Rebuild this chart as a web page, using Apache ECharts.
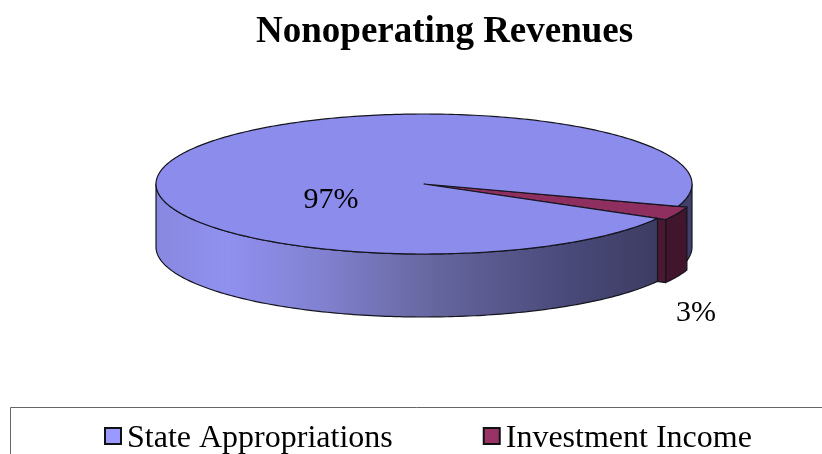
<!DOCTYPE html>
<html><head><meta charset="utf-8">
<style>html,body{margin:0;padding:0;background:#fff}#c{width:822px;height:454px}</style>
<script src="https://cdn.jsdelivr.net/npm/echarts@6/dist/echarts.min.js"></script></head>
<body><div id="c"></div>
<script>
const categories = ['State Appropriations', 'Investment Income'];
const shares = [97, 3];
const titleText = 'Nonoperating Revenues';

const SERIF = '"Liberation Serif","Times New Roman",serif';
const cx = 424, cy = 184, rx = 268, ry = 70, depth = 63, sliceScale = 1.035, startDeg = 18.6;
const total = shares[0] + shares[1];
const sliceEnd = startDeg + shares[1] / total * 360;
const LINE = '#15151f';
const swatches = ['#9999ff', '#993366'];

function pt(deg, k, dy) {
  const a = deg * Math.PI / 180;
  return [cx + rx * k * Math.cos(a), cy + ry * k * Math.sin(a) + (dy || 0)];
}
function arc(a, b, k, dy) {
  const pts = [], n = Math.max(2, Math.ceil(Math.abs(b - a)));
  for (let i = 0; i <= n; i++) pts.push(pt(a + (b - a) * i / n, k, dy));
  return pts;
}
function wall(a, b, k) {
  return arc(a, b, k, 0).concat(arc(b, a, k, depth));
}
function poly(points, fill, lw) {
  return { type: 'polygon', shape: { points }, style: { fill, stroke: LINE, lineWidth: lw === undefined ? 1.2 : lw, lineJoin: 'round' } };
}
const frontGrad = { type: 'linear', global: true, x: 156, y: 0, x2: 660, y2: 0, colorStops: [
  { offset: 0, color: '#8888e0' }, { offset: 0.14, color: '#9090f0' }, { offset: 0.32, color: '#8282d2' },
  { offset: 0.55, color: '#66669f' }, { offset: 0.8, color: '#4b4b7c' }, { offset: 1, color: '#3c3c62' } ] };

function label(text, x, y) {
  return { type: 'text', style: { text, x, y, font: '30px ' + SERIF, fill: '#000', textAlign: 'center', textVerticalAlign: 'middle' } };
}

function renderBack() {
  return { type: 'group', children: [ poly(wall(0, startDeg, 1), '#40406a') ] };
}
function renderSlice(params, api) {
  const v = api.value(0);
  const end = startDeg + v / total * 360;
  const k = sliceScale;
  const outer = arc(startDeg, end, k, 0);
  const c = pt(end, k, 0);
  const inner = pt(end, 1 / k * 0.97, 0);
  return { type: 'group', children: [
    poly(wall(startDeg, end, k), '#41152c'),
    poly([[inner[0] - 2, inner[1]], c, [c[0], c[1] + depth], [inner[0] - 2, inner[1] + depth]], '#4a1832'),
    poly([[cx, cy]].concat(outer), '#8e2f60'),
    label(v + '%', 696, 313)
  ] };
}
function renderMain(params, api) {
  const v = api.value(0);
  const a = sliceEnd, b = a + v / total * 360;
  return { type: 'group', children: [
    poly(wall(a, 180, 1), frontGrad),
    poly([[cx, cy]].concat(arc(a, b, 1, 0)), '#8c8cec'),
    label(v + '%', 331, 200)
  ] };
}

const chart = echarts.init(document.getElementById('c'), null, { renderer: 'canvas' });
chart.setOption({
  animation: false,
  backgroundColor: '#fff',
  title: { text: titleText, left: 251, top: 9, textStyle: { fontFamily: SERIF, fontSize: 37, fontWeight: 'bold', color: '#000' } },
  legend: {
    data: categories.map((name, i) => ({ name, itemStyle: { color: swatches[i], borderColor: '#111', borderWidth: 2 } })),
    left: 104, top: 423, orient: 'horizontal', itemWidth: 16, itemHeight: 16, itemGap: 90,
    icon: 'rect', selectedMode: false, padding: 0,
    formatter: '{t|{name}}',
    textStyle: { fontFamily: SERIF, fontSize: 32, color: '#000',
      rich: { t: { fontFamily: SERIF, fontSize: 32, color: '#000', padding: [6, 0, 0, 1] } } }
  },
  graphic: [{ type: 'rect', silent: true, shape: { x: 10.5, y: 407.5, width: 900, height: 100 }, style: { fill: 'none', stroke: '#666', lineWidth: 1 } }],
  series: [
    { type: 'custom', name: categories[0], z: 1, coordinateSystem: 'none', silent: true, itemStyle: { color: swatches[0] }, data: [[shares[0]]], renderItem: renderBack },
    { type: 'custom', name: categories[1], z: 2, coordinateSystem: 'none', silent: true, itemStyle: { color: swatches[1] }, data: [[shares[1]]], renderItem: renderSlice },
    { type: 'custom', name: categories[0], z: 3, coordinateSystem: 'none', silent: true, itemStyle: { color: swatches[0] }, data: [[shares[0]]], renderItem: renderMain }
  ]
});
</script></body></html>
